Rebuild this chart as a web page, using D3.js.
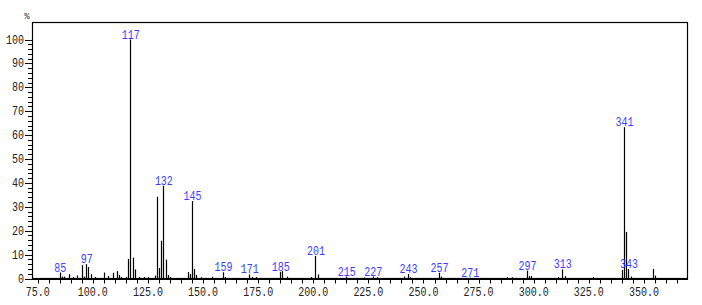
<!DOCTYPE html>
<html>
<head>
<meta charset="utf-8">
<script src="https://cdn.jsdelivr.net/npm/d3@7"></script>
<style>
  body { margin: 0; background: #fff; }
  svg { display: block; }
</style>
</head>
<body>
<div id="chart"></div>
<script>
const width = 702;
const height = 305;

const margin = {
    left: 32,
    right: 14,
    top: 22,
    bottom: 26
}

// m/z and relative intensity (%)
const mz = [85, 86, 87, 89, 91, 93, 95, 96, 97, 98, 99, 101, 105, 107, 109, 111, 112, 113, 115,
    116, 117, 118, 119, 121, 123, 125, 128, 129, 130, 131, 132, 133, 134, 135,
    143, 144, 145, 146, 147, 149, 154, 159, 160, 171, 172, 174, 185, 186, 188,
    199, 201, 202, 215, 223, 227, 229, 241, 243, 244, 257, 258, 271, 288, 290,
    297, 298, 299, 311, 313, 314, 327, 340, 341, 342, 343, 344, 354, 355];
const intensity = [2.5, 0.8, 0.8, 1.8, 0.6, 1.3, 5.6, 0.8, 6.0, 4.8, 1.8, 0.6, 2.5, 1.0, 2.4, 3.1, 1.5, 0.6, 0.6,
    8.2, 100, 8.7, 3.8, 0.6, 0.6, 0.6, 1.2, 34.2, 4.4, 15.8, 38.8, 7.9, 1.5, 0.6,
    2.7, 1.9, 32.4, 4.0, 1.5, 0.5, 0.7, 2.6, 0.6, 1.7, 0.6, 0.6, 2.8, 3.1, 0.8,
    0.6, 9.4, 1.7, 0.8, 0.4, 0.8, 0.5, 0.8, 1.9, 0.5, 2.4, 0.8, 0.3, 0.5, 0.5,
    3.3, 1.0, 1.0, 0.6, 3.8, 1.0, 0.6, 3.6, 63.3, 19.5, 4.0, 0.8, 4.0, 1.2];

const labelled = [85, 97, 117, 132, 145, 159, 171, 185, 201, 215, 227, 243, 257, 271, 297, 313, 341, 343];

const xTickLabels = [75, 100, 125, 150, 175, 200, 225, 250, 275, 300, 325, 350];
const yTickLabels = [0, 10, 20, 30, 40, 50, 60, 70, 80, 90, 100];

const peaks = mz.map((m, i) => ({mz: m, value: intensity[i]}));

let svg = d3.select("#chart")
    .append("svg")
    .attr("width", width)
    .attr("height", height);

let x = d3.scaleLinear()
    .domain([72.4, 370])
    .range([margin.left, width - margin.right]);

let y = d3.scaleLinear()
    .domain([0, 100])
    .range([278.5, 39.5]);

const base = height - margin.bottom - 0.5;
const fontMono = "'Liberation Mono', 'DejaVu Sans Mono', monospace";

// frame
svg.append("rect")
    .attr("x", margin.left + 0.5)
    .attr("y", margin.top + 0.5)
    .attr("width", width - margin.left - margin.right - 1)
    .attr("height", base - margin.top - 0.5)
    .attr("fill", "none")
    .attr("stroke", "#000")
    .attr("stroke-width", 1.2);

// x axis ticks every 5
svg.append("g")
    .selectAll("line")
    .data(d3.range(75, 366, 5))
    .join("line")
    .attr("x1", d => Math.round(x(d)) + 0.5)
    .attr("x2", d => Math.round(x(d)) + 0.5)
    .attr("y1", base)
    .attr("y2", base + 5)
    .attr("stroke", "#000");

svg.append("line")
    .attr("x1", margin.left)
    .attr("x2", width - margin.right)
    .attr("y1", base + 0.5)
    .attr("y2", base + 0.5)
    .attr("stroke", "#000")
    .attr("stroke-width", 2);

svg.append("g")
    .selectAll("text")
    .data(xTickLabels)
    .join("text")
    .attr("x", d => x(d))
    .attr("y", 296)
    .attr("text-anchor", "middle")
    .attr("font-family", fontMono)
    .attr("font-size", 12)
    .attr("textLength", d => d.toFixed(1).length * 6)
    .attr("lengthAdjust", "spacingAndGlyphs")
    .attr("fill", "#222")
    .text(d => d.toFixed(1));

// y axis ticks
svg.append("g")
    .selectAll("line")
    .data(d3.range(0, 101, 2))
    .join("line")
    .attr("x1", d => d % 10 === 0 ? margin.left - 7 : margin.left - 4)
    .attr("x2", margin.left)
    .attr("y1", d => Math.round(y(d)) + 0.5)
    .attr("y2", d => Math.round(y(d)) + 0.5)
    .attr("stroke", "#000");

svg.append("g")
    .selectAll("text")
    .data(yTickLabels)
    .join("text")
    .attr("x", margin.left - 8)
    .attr("y", d => y(d) + 4)
    .attr("text-anchor", "end")
    .attr("font-family", fontMono)
    .attr("font-size", 12)
    .attr("textLength", d => String(d).length * 6)
    .attr("lengthAdjust", "spacingAndGlyphs")
    .attr("fill", "#222")
    .text(d => d);

svg.append("text")
    .attr("x", 27)
    .attr("y", 19)
    .attr("text-anchor", "middle")
    .attr("font-family", fontMono)
    .attr("font-size", 9)
    .attr("fill", "#333")
    .text("%");

// peaks
svg.append("g")
    .selectAll("line")
    .data(peaks)
    .join("line")
    .attr("x1", d => Math.round(x(d.mz)) + 0.5)
    .attr("x2", d => Math.round(x(d.mz)) + 0.5)
    .attr("y1", base)
    .attr("y2", d => y(d.value))
    .attr("stroke", "#000")
    .attr("stroke-width", 1.2);

svg.append("g")
    .selectAll("text")
    .data(peaks.filter(d => labelled.includes(d.mz)))
    .join("text")
    .attr("x", d => x(d.mz) + 0.5)
    .attr("y", d => y(d.value) - 1)
    .attr("text-anchor", "middle")
    .attr("font-family", fontMono)
    .attr("font-size", 13)
    .attr("textLength", d => String(d.mz).length * 6)
    .attr("lengthAdjust", "spacingAndGlyphs")
    .attr("fill", "#3d3dff")
    .text(d => d.mz);
</script>
</body>
</html>
